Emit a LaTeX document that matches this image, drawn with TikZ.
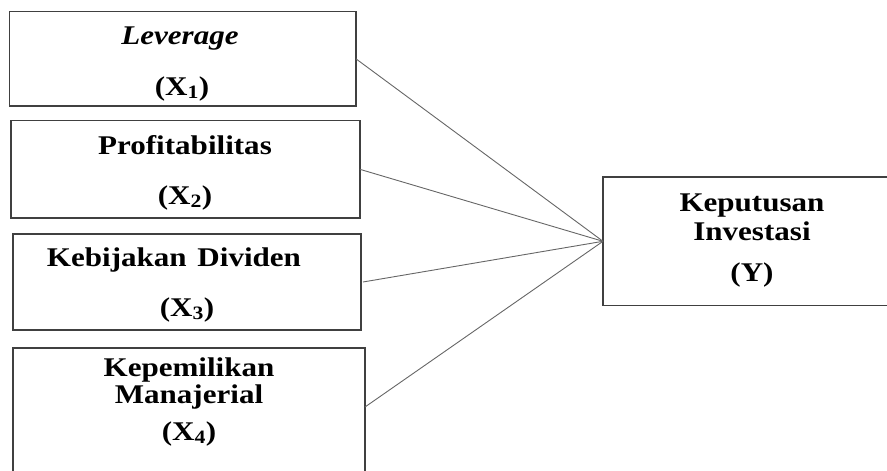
\documentclass[tikz,border=0pt]{standalone}
\usepackage{fontspec}
\setmainfont{Liberation Serif}[FakeStretch=1.15]
\begin{document}
\begin{tikzpicture}[x=1pt,y=-1pt,
  box/.style={draw=black!75, line width=1.3pt, fill=none, inner sep=0pt, outer sep=0pt, anchor=north west},
  lbl/.style={font=\fontsize{27}{31}\selectfont\bfseries, anchor=base, inner sep=0pt},
  link/.style={draw=black!60, line width=0.9pt}]
\useasboundingbox (0,0) rectangle (887,471);
\clip (0,0) rectangle (887,471);
% boxes
\node[box, minimum width=346.5pt, minimum height=94.3pt] (b1) at (9.5,11.7) {};
\node[box, minimum width=349pt, minimum height=97.3pt] (b2) at (11,120.7) {};
\node[box, minimum width=348pt, minimum height=96pt] (b3) at (13,234) {};
\node[box, minimum width=352pt, minimum height=140pt] (b4) at (13,348) {};
\node[box, minimum width=320pt, minimum height=128.6pt] (y) at (603,177) {};
% texts
\node[lbl, font=\fontsize{27}{31}\selectfont\bfseries\itshape] (t1a) at (180,45) {Leverage};
\node[lbl] (t1b) at (182,95) {(X\textsubscript{1})};
\node[lbl] (t2a) at (185,154) {Profitabilitas};
\node[lbl] (t2b) at (185,204) {(X\textsubscript{2})};
\node[lbl] (t3a) at (174,266) {Kebijakan\hspace{0.4em}Dividen};
\node[lbl] (t3b) at (187,316) {(X\textsubscript{3})};
\node[lbl] (t4a) at (189,376) {Kepemilikan};
\node[lbl] (t4b) at (189,403) {Manajerial};
\node[lbl] (t4c) at (189,440) {(X\textsubscript{4})};
\node[lbl] (tya) at (752,211) {Keputusan};
\node[lbl] (tyb) at (752,240) {Investasi};
\node[lbl] (tyc) at (752,281) {(Y)};
% connectors
\draw[link] (b1.east) -- (y.west);
\draw[link] (b2.east) -- (y.west);
\draw[link] ([xshift=2pt]b3.east) -- (y.west);
\draw[link] ([yshift=-59pt]b4.north east) -- (y.west);
\end{tikzpicture}
\end{document}
